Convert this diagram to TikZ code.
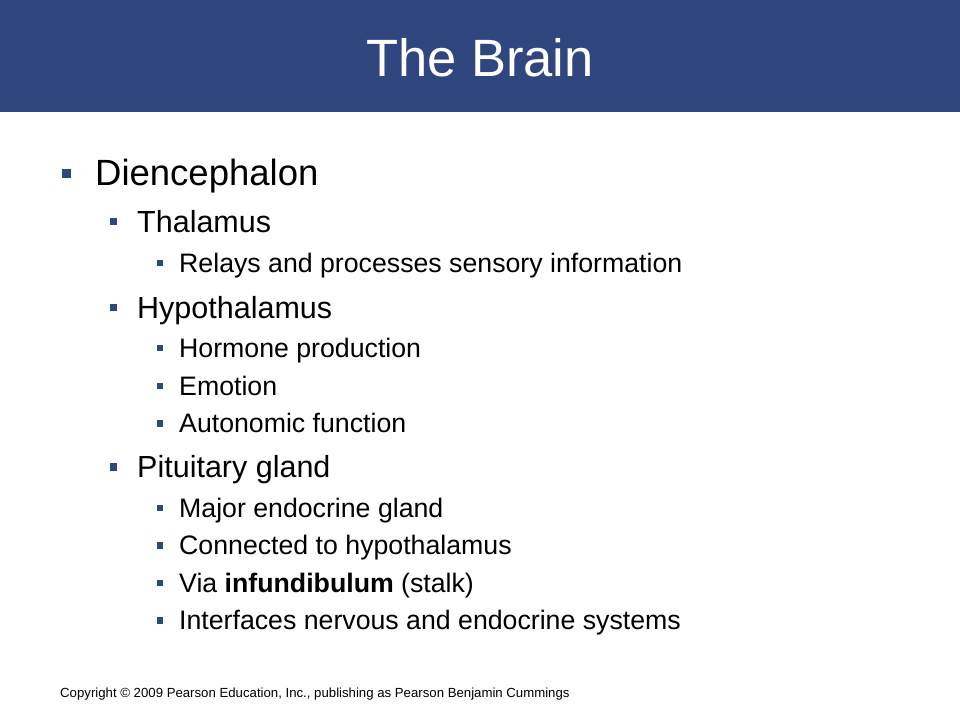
\documentclass[tikz,border=0pt]{standalone}
\usepackage{fontspec}
\setmainfont{Liberation Sans}
\usepackage{tikz}
\usetikzlibrary{positioning, calc}

\definecolor{slideblue}{RGB}{48,70,127}

\begin{document}
\begin{tikzpicture}[x=1pt,y=-1pt,
  bulA/.style={fill=slideblue,inner sep=0pt,minimum size=9pt},
  bulB/.style={fill=slideblue,inner sep=0pt,minimum size=7.5pt},
  bulC/.style={fill=slideblue,inner sep=0pt,minimum size=6.8pt},
  txtA/.style={anchor=base west,inner sep=0pt,font=\fontsize{36.5}{40}\selectfont},
  txtB/.style={anchor=base west,inner sep=0pt,font=\fontsize{30.5}{34}\selectfont},
  txtC/.style={anchor=base west,inner sep=0pt,font=\fontsize{26.7}{30}\selectfont}]
\useasboundingbox (0,0) rectangle (960,720);
\fill[white] (0,0) rectangle (960,720);
\fill[slideblue] (0,0) rectangle (960,112);
\node[anchor=base,text=white,font=\fontsize{52.5}{58}\selectfont] (title) at (480,76) {The Brain};

\node[bulA] (b1) at (66,173) {};
\node[txtA] (dien) at (95,185) {Diencephalon};

\node[bulB] (b2) at (113.5,221.5) {};
\node[txtB] (thal) at (137,232) {Thalamus};
\node[bulC] (b3) at (160,263) {};
\node[txtC] (relay) at (179,272) {Relays and processes sensory information};

\node[bulB] (b4) at (113.5,307.5) {};
\node[txtB] (hypo) at (137,318) {Hypothalamus};
\node[bulC] (b5) at (160,348) {};
\node[txtC] (horm) at (179,357) {Hormone production};
\node[bulC] (b6) at (160,386) {};
\node[txtC] (emot) at (179,395) {Emotion};
\node[bulC] (b7) at (160,423.5) {};
\node[txtC] (auto) at (179,432.5) {Autonomic function};

\node[bulB] (b8) at (113.5,467) {};
\node[txtB] (pitu) at (137,477.5) {Pituitary gland};
\node[bulC] (b9) at (160,508) {};
\node[txtC] (major) at (179,517) {Major endocrine gland};
\node[bulC] (b10) at (160,545.5) {};
\node[txtC] (conn) at (179,554.5) {Connected to hypothalamus};
\node[bulC] (b11) at (160,583) {};
\node[txtC] (via) at (179,592) {Via \textbf{infundibulum} (stalk)};
\node[bulC] (b12) at (160,620.5) {};
\node[txtC] (intf) at (179,629.5) {Interfaces nervous and endocrine systems};

\node[anchor=base west,inner sep=0pt,font=\fontsize{13.2}{15}\selectfont] (copy) at (60,697)
  {Copyright \textcopyright{} 2009 Pearson Education, Inc., publishing as Pearson Benjamin Cummings};
\end{tikzpicture}
\end{document}
